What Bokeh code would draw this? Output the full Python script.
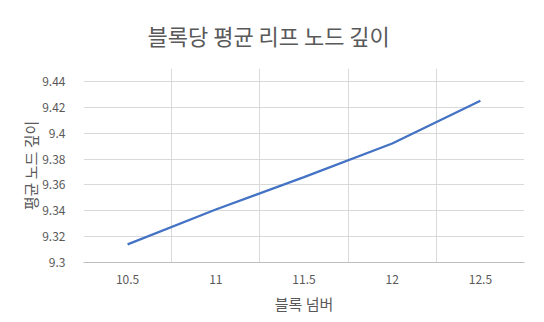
from bokeh.plotting import figure
from bokeh.models import Range1d, FixedTicker, Title
from bokeh.embed import file_html
from bokeh.resources import INLINE

# Data
categories = ["10.5", "11", "11.5", "12", "12.5"]
depth = [9.314, 9.341, 9.366, 9.392, 9.425]
y_ticks = [9.30, 9.32, 9.34, 9.36, 9.38, 9.40, 9.42, 9.44]
y_tick_labels = ["9.3", "9.32", "9.34", "9.36", "9.38", "9.4", "9.42", "9.44"]
title_text = "블록당 평균 리프 노드 깊이"
x_title = "블록 넘버"
y_title = "평균 노드 깊이"

FONT = "Noto Sans CJK KR"
TXT = "#595959"
GRID = "#D9D9D9"

n = len(categories)
xs = [i + 0.5 for i in range(n)]

p = figure(width=544, height=322, output_backend="svg", toolbar_location=None,
           x_range=Range1d(0, n), y_range=Range1d(9.30, 9.45))
p.min_border_left = 83
p.min_border_right = 20
p.min_border_top = 68
p.min_border_bottom = 60
p.outline_line_color = None
p.background_fill_color = "white"
p.border_fill_color = "white"

p.line(xs, depth, line_color="#4472C4", line_width=2.25)

# X axis
p.xaxis.ticker = FixedTicker(ticks=xs)
p.xaxis.major_label_overrides = {x: c for x, c in zip(xs, categories)}
p.xaxis.major_tick_line_color = None
p.xaxis.minor_tick_line_color = None
p.xaxis.axis_line_color = "#BFBFBF"
p.xaxis.major_label_text_font = FONT
p.xaxis.major_label_text_font_size = "12px"
p.xaxis.major_label_text_color = TXT
p.xaxis.major_label_standoff = 6
p.xaxis.axis_label = x_title
p.xaxis.axis_label_text_font = FONT
p.xaxis.axis_label_text_font_size = "15px"
p.xaxis.axis_label_text_font_style = "normal"
p.xaxis.axis_label_text_color = TXT
p.xaxis.axis_label_standoff = 6

# Y axis
p.yaxis.ticker = FixedTicker(ticks=y_ticks)
p.yaxis.major_label_overrides = {t: l for t, l in zip(y_ticks, y_tick_labels)}
p.yaxis.major_tick_line_color = None
p.yaxis.minor_tick_line_color = None
p.yaxis.axis_line_color = None
p.yaxis.major_label_text_font = FONT
p.yaxis.major_label_text_font_size = "12px"
p.yaxis.major_label_text_color = TXT
p.yaxis.major_label_standoff = 12
p.yaxis.axis_label = y_title
p.yaxis.axis_label_text_font = FONT
p.yaxis.axis_label_text_font_size = "15px"
p.yaxis.axis_label_text_font_style = "normal"
p.yaxis.axis_label_text_color = TXT
p.yaxis.axis_label_standoff = -2

# Grids
p.xgrid.ticker = FixedTicker(ticks=list(range(n + 1)))
p.xgrid.grid_line_color = GRID
p.ygrid.ticker = FixedTicker(ticks=y_ticks)
p.ygrid.grid_line_color = GRID

# Title (shifted so it is centered on the whole chart)
t = Title(text=title_text, align="left", vertical_align="top", offset=64,
          standoff=32, text_font=FONT, text_font_size="22px",
          text_font_style="normal", text_color=TXT)
p.add_layout(t, "above")

open("out.html", "w").write(file_html(p, INLINE))
